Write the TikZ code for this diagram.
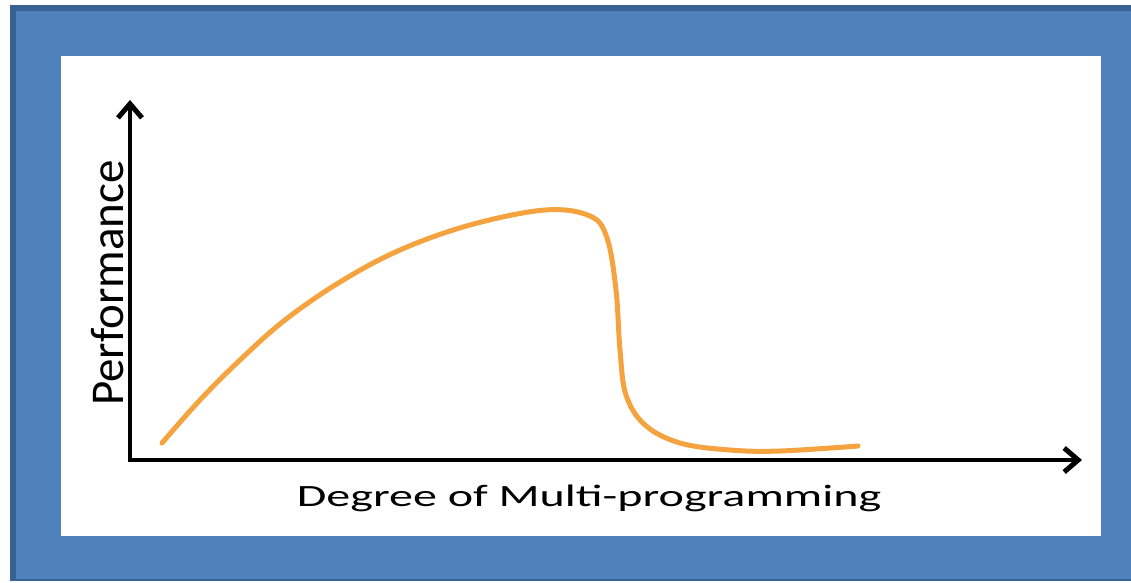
\documentclass[tikz,border=0pt]{standalone}
\usepackage{fontspec}
\setmainfont{Carlito}
\usetikzlibrary{arrows.meta}
\definecolor{frameblue}{HTML}{4F81BD}
\definecolor{framedark}{HTML}{3A6194}
\definecolor{curveorange}{HTML}{F5A33F}
\tikzset{
  axis/.style={line width=4.5pt, -{Straight Barb[length=14pt,width=24pt,line width=5pt]}},
  curve/.style={curveorange, line width=5pt, line cap=round},
  lbl/.style={inner sep=0pt, font=\fontsize{31}{31}\selectfont},
  vlbl/.style={inner sep=0pt, font=\fontsize{47}{47}\selectfont}
}
\begin{document}
\begin{tikzpicture}[x=1pt,y=-1pt]
\useasboundingbox (0,0) rectangle (1131,582);
\begin{scope}
\clip (0,0) rectangle (1131,582);
\fill[framedark] (10,5) rectangle (1140,581);
\fill[frameblue] (16,11) rectangle (1140,579);
\end{scope}
\fill[white] (61,56) rectangle (1101,536);
\coordinate (O) at (130,460);
\coordinate (Ytop) at (130,100);
\coordinate (Xend) at (1082,460);
\draw[axis] ([yshift=-2pt]O) -- (Ytop);
\draw[axis] ([xshift=-2pt]O) -- (Xend);
\draw[curve] plot[smooth, tension=0.6] coordinates {(162,443) (200,400) (240,360) (285,320) (340,282) (400,250) (470,225) (545,210) (590,216) (607,238) (616,290) (620,350) (626,395) (645,425) (680,443) (730,450) (780,451) (858,446)};
\node[lbl, anchor=base] (xl) at (589,506) {\scalebox{1.55}[1]{Degree of Multi-programming}};
\node[vlbl] (yl) at (108,283) {\rotatebox{90}{Performance}};
\end{tikzpicture}
\end{document}
